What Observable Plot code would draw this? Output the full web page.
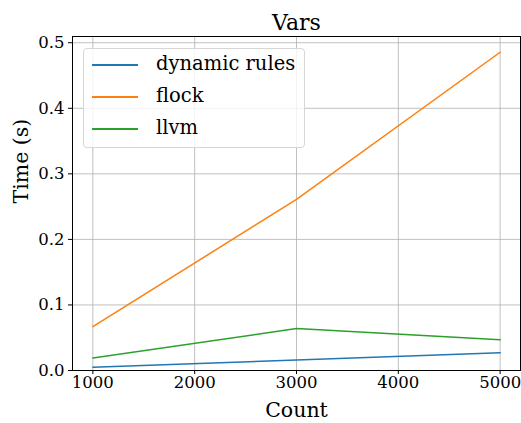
<!DOCTYPE html>
<html>
<head>
<meta charset="utf-8">
<script src="https://cdn.jsdelivr.net/npm/d3@7"></script>
<script src="https://cdn.jsdelivr.net/npm/@observablehq/plot@0.6"></script>
<style>
  body { margin: 0; background: #fff; }
  #wrap { position: relative; width: 521px; height: 423px; font-family: "DejaVu Serif", serif; }
  #legend { position: absolute; left: 83px; top: 48px; width: 222px; height: 100px;
    background: rgba(255,255,255,0.8); border: 1px solid #d6d6d6; border-radius: 4px; box-sizing: border-box; }
  .sw { position: absolute; left: 8px; width: 46px; height: 2px; }
  .lab { position: absolute; left: 72px; font-size: 19.5px; white-space: nowrap; color: #000; line-height: 24px; }
</style>
</head>
<body>
<div id="wrap"></div>
<script>
const counts = [1000, 3000, 5000];
const seriesNames = ["dynamic rules", "flock", "llvm"];
const dynamicRules = [0.005, 0.016, 0.027];
const flock = [0.067, 0.261, 0.4855];
const llvm = [0.019, 0.064, 0.047];
const colors = ["#1f77b4", "#ff7f0e", "#2ca02c"];
const xTicks = [1000, 2000, 3000, 4000, 5000];
const yTicks = [0, 0.1, 0.2, 0.3, 0.4, 0.5];

const seriesValues = [dynamicRules, flock, llvm];
const data = seriesNames.flatMap((s, i) => counts.map((c, j) => ({series: s, count: c, time: seriesValues[i][j]})));

const font = "DejaVu Serif, serif";
const chart = Plot.plot({
  width: 521,
  height: 423,
  marginLeft: 72,
  marginRight: 1,
  marginTop: 36,
  marginBottom: 53,
  style: {fontFamily: font, fontSize: "16.5px", color: "#000", background: "#fff"},
  x: {domain: [800, 5200]},
  y: {domain: [0, 0.5095]},
  color: {domain: seriesNames, range: colors},
  marks: [
    Plot.gridX(xTicks, {stroke: "#b0b0b0", strokeOpacity: 1, strokeWidth: 0.8}),
    Plot.gridY(yTicks, {stroke: "#b0b0b0", strokeOpacity: 1, strokeWidth: 0.8}),
    Plot.line(data, {x: "count", y: "time", z: "series", stroke: "series", strokeWidth: 1.5}),
    Plot.frame({stroke: "#000", strokeWidth: 1}),
    Plot.axisX(xTicks, {tickSize: 4, tickPadding: 2, tickFormat: d => String(d), label: null, fontSize: 16.5}),
    Plot.axisY(yTicks, {tickSize: 4, tickPadding: 4, tickFormat: d => d.toFixed(1), label: null, fontSize: 16.5}),
    Plot.text(["Vars"], {frameAnchor: "top", dy: -22, fontSize: 22, fill: "#000"}),
    Plot.text(["Count"], {frameAnchor: "bottom", dy: 46, fontSize: 20.5, fill: "#000"}),
    Plot.text(["Time (s)"], {frameAnchor: "left", dx: -51, rotate: -90, fontSize: 20.5, fill: "#000"})
  ]
});
const wrap = document.getElementById("wrap");
wrap.appendChild(chart);

const legend = document.createElement("div");
legend.id = "legend";
seriesNames.forEach((s, i) => {
  const cy = 16 + i * 32;
  const sw = document.createElement("div");
  sw.className = "sw";
  sw.style.top = (cy - 1) + "px";
  sw.style.background = colors[i];
  const lab = document.createElement("div");
  lab.className = "lab";
  lab.style.top = (cy - 13) + "px";
  lab.textContent = s;
  legend.appendChild(sw);
  legend.appendChild(lab);
});
wrap.appendChild(legend);
</script>
</body>
</html>
